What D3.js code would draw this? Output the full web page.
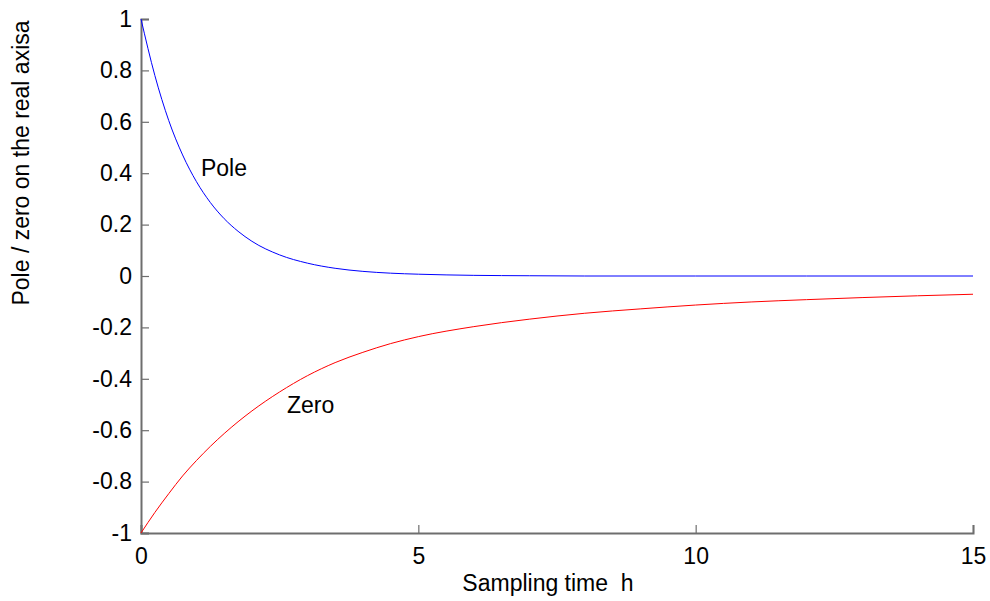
<!DOCTYPE html>
<html>
<head>
<meta charset="utf-8">
<script src="https://cdn.jsdelivr.net/npm/d3@7"></script>
<style>
  html, body { margin:0; padding:0; background:#fff; }
  svg text { font-family: "Liberation Sans", Arial, sans-serif; fill:#000; }
</style>
</head>
<body>
<svg id="chart" width="990" height="601"></svg>
<script>
// ===== data =====
const hPole  = [0, 0.25, 0.5, 0.75, 1, 1.25, 1.5, 1.75, 2, 2.5, 3, 3.5, 4, 4.5, 5, 6, 7, 8, 10, 12, 15];
const vPole  = [1, 0.78, 0.605, 0.471, 0.367, 0.286, 0.223, 0.174, 0.135, 0.082, 0.05, 0.03, 0.018, 0.011, 0.007, 0.0025, 0.001, 0, 0, 0, 0];
const hZero  = [0, 0.25, 0.5, 0.75, 1, 1.25, 1.5, 1.75, 2, 2.5, 3, 3.5, 4, 4.5, 5, 6, 7, 8, 9, 10, 11, 12, 13, 14, 15];
const vZero  = [-1, -0.92, -0.847, -0.778, -0.718, -0.663, -0.613, -0.567, -0.525, -0.451, -0.388, -0.337, -0.297, -0.263, -0.236, -0.197, -0.168, -0.145, -0.128, -0.113, -0.101, -0.092, -0.084, -0.077, -0.071];
const xTicks = [0, 5, 10, 15];
const yTicks = [-1, -0.8, -0.6, -0.4, -0.2, 0, 0.2, 0.4, 0.6, 0.8, 1];

const svg = d3.select('#chart');
const M = {top:19, right:17, bottom:68, left:141};
const innerW = 990 - M.left - M.right;
const innerH = 601 - M.top - M.bottom;
const FS = 23;
const axisCol = '#6e6e6e';

const x = d3.scaleLinear().domain([0, 15]).range([0, innerW]);
const y = d3.scaleLinear().domain([-1, 1]).range([innerH, 0]);

const g = svg.append('g').attr('transform', `translate(${M.left},${M.top})`);

// plain hyphen for negatives, like the original
const fmtY = d => String(+d.toFixed(1));

// axes (ticks pointing inward)
const xAxisG = g.append('g').attr('transform', `translate(0,${innerH})`)
  .call(d3.axisBottom(x).tickValues(xTicks).tickSize(-8).tickPadding(15).tickFormat(d => String(d)));
const yAxisG = g.append('g')
  .call(d3.axisLeft(y).tickValues(yTicks).tickSize(-8).tickPadding(9).tickFormat(fmtY));

[xAxisG, yAxisG].forEach(a => {
  a.select('.domain').attr('stroke', axisCol).attr('stroke-width', 2);
  a.selectAll('.tick line').attr('stroke', axisCol).attr('stroke-width', 1.2);
  a.selectAll('.tick text').attr('fill', '#000').style('font-size', FS + 'px')
    .style('font-family', '"Liberation Sans", Arial, sans-serif');
});

// curves
const line = d3.line().x(d => x(d[0])).y(d => y(d[1])).curve(d3.curveMonotoneX);
g.append('path').datum(hPole.map((h, i) => [h, vPole[i]]))
  .attr('d', line).attr('fill', 'none').attr('stroke', '#0000ff').attr('stroke-width', 1);
g.append('path').datum(hZero.map((h, i) => [h, vZero[i]]))
  .attr('d', line).attr('fill', 'none').attr('stroke', '#ff0000').attr('stroke-width', 1);

// in-plot labels
g.append('text').attr('x', x(1.08)).attr('y', y(0.4) + 3).style('font-size', FS + 'px').text('Pole');
g.append('text').attr('x', x(2.63)).attr('y', y(-0.5) + 8).style('font-size', FS + 'px').text('Zero');

// axis titles
svg.append('text').attr('x', 548).attr('y', 591)
  .attr('text-anchor', 'middle').style('font-size', FS + 'px').style('white-space', 'pre')
  .text('Sampling time  h');
svg.append('text').attr('transform', `translate(29,163) rotate(-90)`)
  .attr('text-anchor', 'middle').style('font-size', FS + 'px')
  .text('Pole / zero on the real axisa');
</script>
</body>
</html>
